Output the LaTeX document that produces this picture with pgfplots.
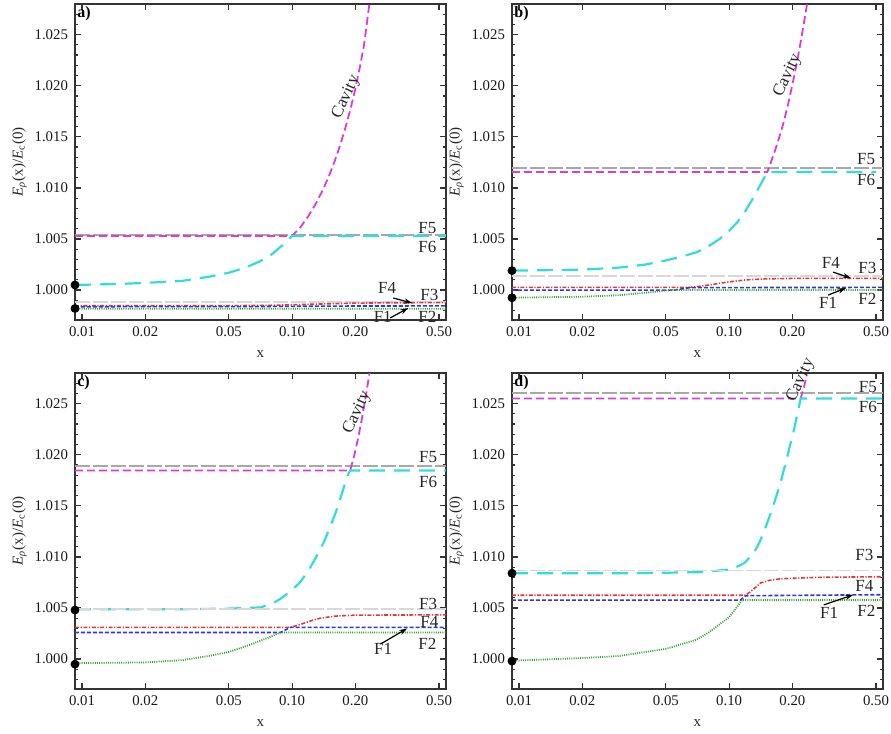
\documentclass[border=0pt]{standalone}
\usepackage{fontspec}
\setmainfont{Liberation Serif}
\usepackage{pgfplots}
\pgfplotsset{compat=1.18}
\usetikzlibrary{arrows.meta}

\definecolor{cmag}{HTML}{DD3ADD}
\definecolor{ccya}{HTML}{30DCE0}
\definecolor{cgray}{HTML}{A8A8A8}
\definecolor{clgray}{HTML}{D8D8D8}
\definecolor{cred}{HTML}{E03838}
\definecolor{cblue}{HTML}{3434DC}
\definecolor{cgreen}{HTML}{30A830}

\pgfplotsset{
  sAxis/.style={
    width=185.5pt, height=158pt, scale only axis,
    xmin=0.00926, xmax=0.54, ymin=0.99707, ymax=1.028,
    xtick={0.01,0.02,0.05,0.1,0.2,0.5},
    xticklabels={0.01,0.02,0.05,0.10,0.20,0.50},
    ytick={1.000,1.005,1.010,1.015,1.020,1.025},
    yticklabels={1.000,1.005,1.010,1.015,1.020,1.025},
    minor ytick={0.998,0.999,1.001,1.002,1.003,1.004,1.006,1.007,1.008,1.009,1.011,1.012,1.013,1.014,1.016,1.017,1.018,1.019,1.021,1.022,1.023,1.024,1.026,1.027},
    scaled y ticks=false,
    tick align=inside,
    major tick length=2.8pt, minor tick length=1.5pt,
    axis line style={line width=0.8pt, black!80},
    every tick/.style={black!80, line width=0.6pt},
    ticklabel style={font=\fontsize{7.4}{8}\selectfont, black!90},
    xlabel={x},
    ylabel={\textit{E}\textsubscript{\textit{ρ}}(x)/\textit{E}\textsubscript{c}(0)},
    label style={font=\fontsize{7.5}{9}\selectfont, black!85},
    ylabel style={yshift=-3pt},
    clip=false,
  },
}
\tikzset{
  sF5/.style={color=cgray, line width=0.9pt, dash pattern=on 7.5pt off 1.5pt},
  sF3/.style={color=clgray, line width=0.9pt, dash pattern=on 7.5pt off 1.5pt},
  sMag/.style={color=cmag, line width=0.9pt, dash pattern=on 4pt off 2pt},
  sCya/.style={color=ccya, line width=1.1pt, dash pattern=on 8pt off 4.5pt},
  sRed/.style={color=cred, line width=0.8pt, dash pattern=on 2pt off 0.8pt on 0.6pt off 0.8pt},
  sBlue/.style={color=cblue, line width=0.8pt, dash pattern=on 2pt off 1pt},
  sGreen/.style={color=cgreen, line width=0.9pt, dash pattern=on 0.5pt off 0.6pt},
  sLab/.style={font=\fontsize{8.5}{10}\selectfont, black!85, inner sep=0pt},
  sCav/.style={font=\fontsize{8.5}{10}\selectfont, black!85, inner sep=0pt, rotate=65},
  sPan/.style={font=\bfseries\fontsize{8}{10}\selectfont, anchor=north west, inner sep=1pt},
  sArr/.style={-{Stealth[length=4pt,width=2.6pt]}, line width=0.6pt, black},
  sDot/.style={only marks, mark=*, mark size=2pt, black},
}

\begin{document}
\begin{tikzpicture}
\useasboundingbox (0,0) rectangle (445.5pt,-367pt);

% ---- a)
\begin{semilogxaxis}[sAxis, at={(37.5pt,-2pt)}, anchor=north west]
\addplot[sF5] coordinates {(0.00926,1.0054)(0.54,1.0054)};
\addplot[sMag] coordinates {(0.00926,1.0053)(0.1,1.0053)(0.11,1.0062)(0.12,1.0073)(0.13,1.0085)(0.14,1.0098)(0.15,1.0112)(0.16,1.0127)(0.17,1.0143)(0.18,1.0160)(0.19,1.0178)(0.20,1.0197)(0.21,1.0218)(0.22,1.0240)(0.2328,1.0279)};
\addplot[sCya] coordinates {(0.00926,1.0005)(0.015,1.0006)(0.02,1.0007)(0.03,1.0009)(0.04,1.0013)(0.05,1.0017)(0.06,1.0022)(0.07,1.0028)(0.08,1.0035)(0.09,1.0044)(0.1,1.0053)(0.54,1.0053)};
\addplot[sF3] coordinates {(0.00926,0.99886)(0.54,0.99886)};
\addplot[sRed] coordinates {(0.00926,0.99846)(0.05,0.99847)(0.08,0.99851)(0.1,0.99856)(0.15,0.99866)(0.2,0.99872)(0.3,0.99876)(0.54,0.99877)};
\addplot[sBlue] coordinates {(0.00926,0.99837)(0.06,0.99838)(0.1,0.99841)(0.2,0.99844)(0.54,0.99845)};
\addplot[sGreen] coordinates {(0.00926,0.99817)(0.54,0.99818)};
\addplot[sDot] coordinates {(0.00926,1.0005)(0.00926,0.9982)};
\node[sPan] at (rel axis cs:0,1) {a)};
\node[sCav] at (axis cs:0.181,1.0189) {Cavity};
\node[sLab] at (axis cs:0.44,1.00605) {F5};
\node[sLab] at (axis cs:0.44,1.0042) {F6};
\node[sLab] at (axis cs:0.283,1.0002) {F4};
\node[sLab] at (axis cs:0.45,0.9995) {F3};
\node[sLab] at (axis cs:0.27,0.99736) {F1};
\node[sLab] at (axis cs:0.44,0.99736) {F2};
\draw[sArr] (axis cs:0.303,0.99922) -- (axis cs:0.373,0.99873);
\draw[sArr] (axis cs:0.293,0.99727) -- (axis cs:0.357,0.99824);
\end{semilogxaxis}

% ---- b)
\begin{semilogxaxis}[sAxis, at={(256pt,-2pt)}, anchor=north west]
\addplot[sF5] coordinates {(0.00926,1.01194)(0.54,1.01194)};
\addplot[sMag] coordinates {(0.00926,1.01155)(0.152,1.01155)(0.16,1.0128)(0.17,1.0144)(0.18,1.0161)(0.19,1.0180)(0.20,1.0201)(0.21,1.0222)(0.22,1.0245)(0.235,1.0280)};
\addplot[sCya] coordinates {(0.00926,1.0019)(0.02,1.0020)(0.03,1.0022)(0.04,1.0025)(0.05,1.0029)(0.06,1.0033)(0.07,1.0037)(0.08,1.0043)(0.09,1.0050)(0.10,1.0058)(0.11,1.0067)(0.12,1.0078)(0.13,1.0090)(0.14,1.0102)(0.152,1.01155)(0.50,1.01155)};
\addplot[sF3] coordinates {(0.00926,1.0014)(0.54,1.0014)};
\addplot[sRed] coordinates {(0.00926,1.00026)(0.065,1.00026)(0.07,1.00033)(0.08,1.00049)(0.09,1.00066)(0.1,1.0008)(0.12,1.0010)(0.15,1.0011)(0.2,1.00114)(0.54,1.00115)};
\addplot[sBlue] coordinates {(0.00926,1.0000)(0.055,1.0000)(0.065,1.00024)(0.54,1.00026)};
\addplot[sGreen] coordinates {(0.00926,0.99925)(0.02,0.99935)(0.03,0.9995)(0.04,0.99974)(0.05,0.99995)(0.054,1.0)(0.54,1.0)};
\addplot[sDot] coordinates {(0.00926,1.0019)(0.00926,0.99925)};
\node[sPan] at (rel axis cs:0,1) {b)};
\node[sCav] at (axis cs:0.19,1.021) {Cavity};
\node[sLab] at (axis cs:0.449,1.0128) {F5};
\node[sLab] at (axis cs:0.449,1.01074) {F6};
\node[sLab] at (axis cs:0.305,1.00264) {F4};
\node[sLab] at (axis cs:0.455,1.00215) {F3};
\node[sLab] at (axis cs:0.296,0.99873) {F1};
\node[sLab] at (axis cs:0.455,0.99912) {F2};
\draw[sArr] (axis cs:0.312,1.00176) -- (axis cs:0.38,1.00117);
\draw[sArr] (axis cs:0.296,0.99951) -- (axis cs:0.36,1.0002);
\end{semilogxaxis}

% ---- c)
\begin{semilogxaxis}[sAxis, at={(37.5pt,-186.5pt)}, anchor=north west]
\addplot[sF5] coordinates {(0.00926,1.0189)(0.54,1.0189)};
\addplot[sMag] coordinates {(0.00926,1.01846)(0.189,1.01846)(0.198,1.0200)(0.207,1.0218)(0.217,1.0240)(0.227,1.0264)(0.2335,1.0280)};
\addplot[sCya] coordinates {(0.00926,1.00488)(0.03,1.00488)(0.05,1.00494)(0.0704,1.00505)(0.08,1.0054)(0.088,1.0059)(0.098,1.0066)(0.109,1.0075)(0.12,1.0087)(0.131,1.0101)(0.142,1.0115)(0.152,1.0130)(0.161,1.0143)(0.169,1.0156)(0.178,1.0171)(0.185,1.0181)(0.189,1.01846)(0.54,1.01846)};
\addplot[sF3] coordinates {(0.00926,1.00488)(0.54,1.00488)};
\addplot[sRed] coordinates {(0.00926,1.0031)(0.098,1.0031)(0.11,1.0034)(0.125,1.0038)(0.136,1.0040)(0.16,1.0042)(0.2,1.0043)(0.54,1.00433)};
\addplot[sBlue] coordinates {(0.00926,1.0026)(0.088,1.0026)(0.098,1.0031)(0.54,1.0031)};
\addplot[sGreen] coordinates {(0.00926,0.9996)(0.02,0.99967)(0.03,0.9999)(0.04,1.0003)(0.05,1.0007)(0.063,1.0014)(0.075,1.0020)(0.088,1.0026)(0.54,1.0026)};
\addplot[sDot] coordinates {(0.00926,1.0048)(0.00926,0.9995)};
\node[sPan] at (rel axis cs:0,1) {c)};
\node[sCav] at (axis cs:0.204,1.0241) {Cavity};
\node[sLab] at (axis cs:0.444,1.0198) {F5};
\node[sLab] at (axis cs:0.444,1.0173) {F6};
\node[sLab] at (axis cs:0.444,1.00537) {F3};
\node[sLab] at (axis cs:0.45,1.0036) {F4};
\node[sLab] at (axis cs:0.271,1.001) {F1};
\node[sLab] at (axis cs:0.44,1.00146) {F2};
\draw[sArr] (axis cs:0.263,1.00146) -- (axis cs:0.353,1.003);
\end{semilogxaxis}

% ---- d)
\begin{semilogxaxis}[sAxis, at={(256pt,-186.5pt)}, anchor=north west]
\addplot[sF5] coordinates {(0.00926,1.02605)(0.54,1.02605)};
\addplot[sMag] coordinates {(0.00926,1.0255)(0.219,1.0255)(0.227,1.0266)(0.2344,1.0278)};
\addplot[sCya] coordinates {(0.00926,1.0084)(0.03,1.0084)(0.05,1.00845)(0.0731,1.00851)(0.098,1.00874)(0.108,1.0090)(0.118,1.00939)(0.131,1.01036)(0.14,1.0115)(0.1466,1.01247)(0.1607,1.01473)(0.176,1.01732)(0.1896,1.0199)(0.2039,1.0225)(0.219,1.0255)(0.54,1.0255)};
\addplot[sF3] coordinates {(0.00926,1.00867)(0.54,1.00867)};
\addplot[sRed] coordinates {(0.00926,1.00625)(0.12,1.00625)(0.13,1.0068)(0.141,1.00745)(0.155,1.0077)(0.176,1.00786)(0.264,1.0080)(0.54,1.00806)};
\addplot[sBlue] coordinates {(0.00926,1.00577)(0.113,1.00577)(0.12,1.0062)(0.54,1.0063)};
\addplot[sGreen] coordinates {(0.00926,0.99984)(0.02,1.0001)(0.03,1.0003)(0.05,1.0010)(0.07,1.0019)(0.08,1.0026)(0.09,1.0034)(0.1,1.0041)(0.11,1.0052)(0.115,1.00577)(0.54,1.00577)};
\addplot[sDot] coordinates {(0.00926,1.0084)(0.00926,0.9998)};
\node[sPan] at (rel axis cs:0,1) {d)};
\node[sCav] at (axis cs:0.219,1.0273) {Cavity};
\node[sLab] at (axis cs:0.458,1.02667) {F5};
\node[sLab] at (axis cs:0.458,1.02463) {F6};
\node[sLab] at (axis cs:0.44,1.01016) {F3};
\node[sLab] at (axis cs:0.44,1.00715) {F4};
\node[sLab] at (axis cs:0.299,1.00453) {F1};
\node[sLab] at (axis cs:0.45,1.00473) {F2};
\draw[sArr] (axis cs:0.282,1.0053) -- (axis cs:0.389,1.00628);
\end{semilogxaxis}
\end{tikzpicture}
\end{document}
